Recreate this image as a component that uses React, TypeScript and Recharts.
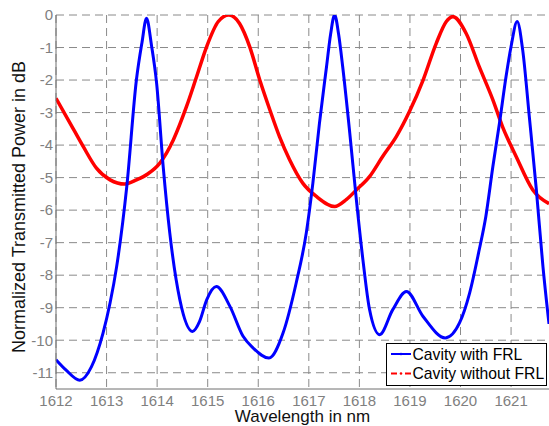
import React from "react";
import { LineChart, Line, XAxis, YAxis, CartesianGrid, Label } from "recharts";

if (typeof document !== "undefined") {
  document.body.style.margin = "0";
  document.body.style.overflow = "hidden";
}

const blueWavelengths = [
  1612.0, 1612.2, 1612.47, 1612.7, 1612.93, 1613.07, 1613.2, 1613.4, 1613.59, 1613.7, 1613.79, 1613.89,
  1613.99, 1614.12, 1614.25, 1614.45, 1614.7, 1614.84, 1614.98, 1615.17, 1615.44, 1615.7, 1615.9, 1616.21,
  1616.49, 1616.75, 1616.95, 1617.08, 1617.21, 1617.35, 1617.43, 1617.51, 1617.59, 1617.67, 1617.81, 1617.94,
  1618.07, 1618.2, 1618.4, 1618.66, 1618.93, 1619.26, 1619.7, 1619.98, 1620.18, 1620.37, 1620.5, 1620.64,
  1620.77, 1620.9, 1621.0, 1621.12, 1621.23, 1621.36, 1621.5, 1621.63, 1621.75,
];
const blueValues = [
  -10.6, -10.92, -11.23, -10.82, -9.78, -8.85, -7.73, -5.27, -2.0, -0.85, -0.1, -0.95,
  -2.1, -4.66, -6.7, -8.76, -9.73, -9.42, -8.76, -8.35, -8.96, -9.88, -10.24, -10.55,
  -9.78, -8.24, -6.7, -5.17, -3.33, -1.59, -0.6, 0, -0.6, -1.59, -3.63, -5.68,
  -7.53, -9.05, -9.83, -9.06, -8.5, -9.27, -9.93, -9.47, -8.55, -7.22, -6.2, -4.66,
  -3.33, -1.9, -0.97, -0.2, -1.08, -3.12, -5.38, -7.73, -9.5,
];

const redWavelengths = [
  1612.0, 1612.28, 1612.54, 1612.8, 1613.07, 1613.36, 1613.59, 1613.82, 1614.05, 1614.32, 1614.58, 1614.78,
  1614.98, 1615.21, 1615.42, 1615.63, 1615.83, 1616.03, 1616.23, 1616.42, 1616.62, 1616.88, 1617.15, 1617.51,
  1617.74, 1617.94, 1618.2, 1618.46, 1618.73, 1618.99, 1619.26, 1619.52, 1619.72, 1619.85, 1620.11, 1620.37,
  1620.64, 1620.83, 1621.1, 1621.43, 1621.75,
];
const redValues = [
  -2.56, -3.33, -4.05, -4.71, -5.07, -5.2, -5.07, -4.88, -4.56, -3.84, -2.82, -1.9,
  -0.97, -0.2, 0, -0.26, -0.97, -2.0, -2.92, -3.74, -4.45, -5.17, -5.58, -5.89,
  -5.68, -5.38, -4.97, -4.35, -3.74, -2.97, -2.0, -0.87, -0.2, -0.05, -0.56, -1.59,
  -2.61, -3.43, -4.35, -5.38, -5.8,
];

const xTicks = [1612, 1613, 1614, 1615, 1616, 1617, 1618, 1619, 1620, 1621];
const yTicks = [0, -1, -2, -3, -4, -5, -6, -7, -8, -9, -10, -11];
const seriesNames = ["Cavity with FRL", "Cavity without FRL"];
const xLabel = "Wavelength in nm";
const yLabel = "Normalized Transmitted Power in dB";

const blueData = blueWavelengths.map((x, i) => ({ x, y: blueValues[i] }));
const redData = redWavelengths.map((x, i) => ({ x, y: redValues[i] }));

const FONT = "'Liberation Sans', Arial, Helvetica, sans-serif";
const AXIS_GRAY = "#6e6e6e";
const TICK_GRAY = "#808080";

function LegendBox() {
  return (
    <svg
      width={161}
      height={43}
      style={{ position: "absolute", left: 386, top: 343 }}
    >
      <rect x={0.5} y={0.5} width={160} height={42} fill="#ffffff" stroke="#000000" strokeWidth={1} />
      <line x1={5} y1={11} x2={25} y2={11} stroke="#0000ff" strokeWidth={2} />
      <circle cx={15} cy={11} r={1.3} fill="#0000ff" />
      <line x1={5} y1={30.5} x2={11} y2={30.5} stroke="#ff0000" strokeWidth={2} />
      <circle cx={15} cy={30.5} r={1.3} fill="#ff0000" />
      <line x1={19} y1={30.5} x2={25} y2={30.5} stroke="#ff0000" strokeWidth={2} />
      <text x={26.5} y={16.5} fontFamily={FONT} fontSize={15.7} fill="#000">{seriesNames[0]}</text>
      <text x={26.5} y={36} fontFamily={FONT} fontSize={15.7} fill="#000">{seriesNames[1]}</text>
    </svg>
  );
}

export default function App() {
  return (
    <div style={{ position: "relative", width: 549, height: 426, background: "#fff", overflow: "hidden" }}>
      <LineChart
        width={549}
        height={426}
        margin={{ top: 15, right: 0, bottom: 0, left: 0 }}
        style={{ fontFamily: FONT }}
      >
        <CartesianGrid
          stroke="#8a8a8a"
          strokeDasharray="8 5"
          strokeWidth={1}
          horizontalValues={yTicks}
          verticalValues={xTicks}
        />
        <XAxis
          xAxisId="top"
          orientation="top"
          type="number"
          dataKey="x"
          domain={[1612, 1621.75]}
          height={0}
          tick={false}
          tickLine={false}
          axisLine={{ stroke: AXIS_GRAY, strokeWidth: 1 }}
          allowDataOverflow
        />
        <XAxis
          type="number"
          dataKey="x"
          domain={[1612, 1621.75]}
          ticks={xTicks}
          allowDataOverflow
          height={37}
          tickLine={false}
          tickSize={6}
          tickMargin={0}
          axisLine={{ stroke: AXIS_GRAY, strokeWidth: 1 }}
          tick={{ fill: TICK_GRAY, fontSize: 15, fontFamily: FONT }}
          interval={0}
        >
          <Label
            content={() => (
              <text x={302.5} y={422} textAnchor="middle" fontFamily={FONT} fontSize={17} fill="#111">
                {xLabel}
              </text>
            )}
          />
        </XAxis>
        <YAxis
          type="number"
          domain={[-11.5, 0]}
          ticks={yTicks}
          allowDataOverflow
          width={56}
          tickLine={false}
          tickSize={3}
          tickMargin={0}
          axisLine={{ stroke: AXIS_GRAY, strokeWidth: 1 }}
          tick={{ fill: TICK_GRAY, fontSize: 15, fontFamily: FONT }}
          interval={0}
        >
          <Label
            content={() => (
              <text
                x={18.5}
                y={207}
                transform="rotate(-90, 18.5, 207)"
                textAnchor="middle"
                dominantBaseline="central"
                fontFamily={FONT}
                fontSize={18}
                fill="#111"
              >
                {yLabel}
              </text>
            )}
          />
        </YAxis>
        <Line
          data={redData}
          dataKey="y"
          name={seriesNames[1]}
          type="monotone"
          stroke="#ff0000"
          strokeWidth={3.5}
          dot={false}
          activeDot={false}
          isAnimationActive={false}
        />
        <Line
          data={blueData}
          dataKey="y"
          name={seriesNames[0]}
          type="monotone"
          stroke="#0000ff"
          strokeWidth={3}
          dot={false}
          activeDot={false}
          isAnimationActive={false}
        />
      </LineChart>
      <LegendBox />
    </div>
  );
}
